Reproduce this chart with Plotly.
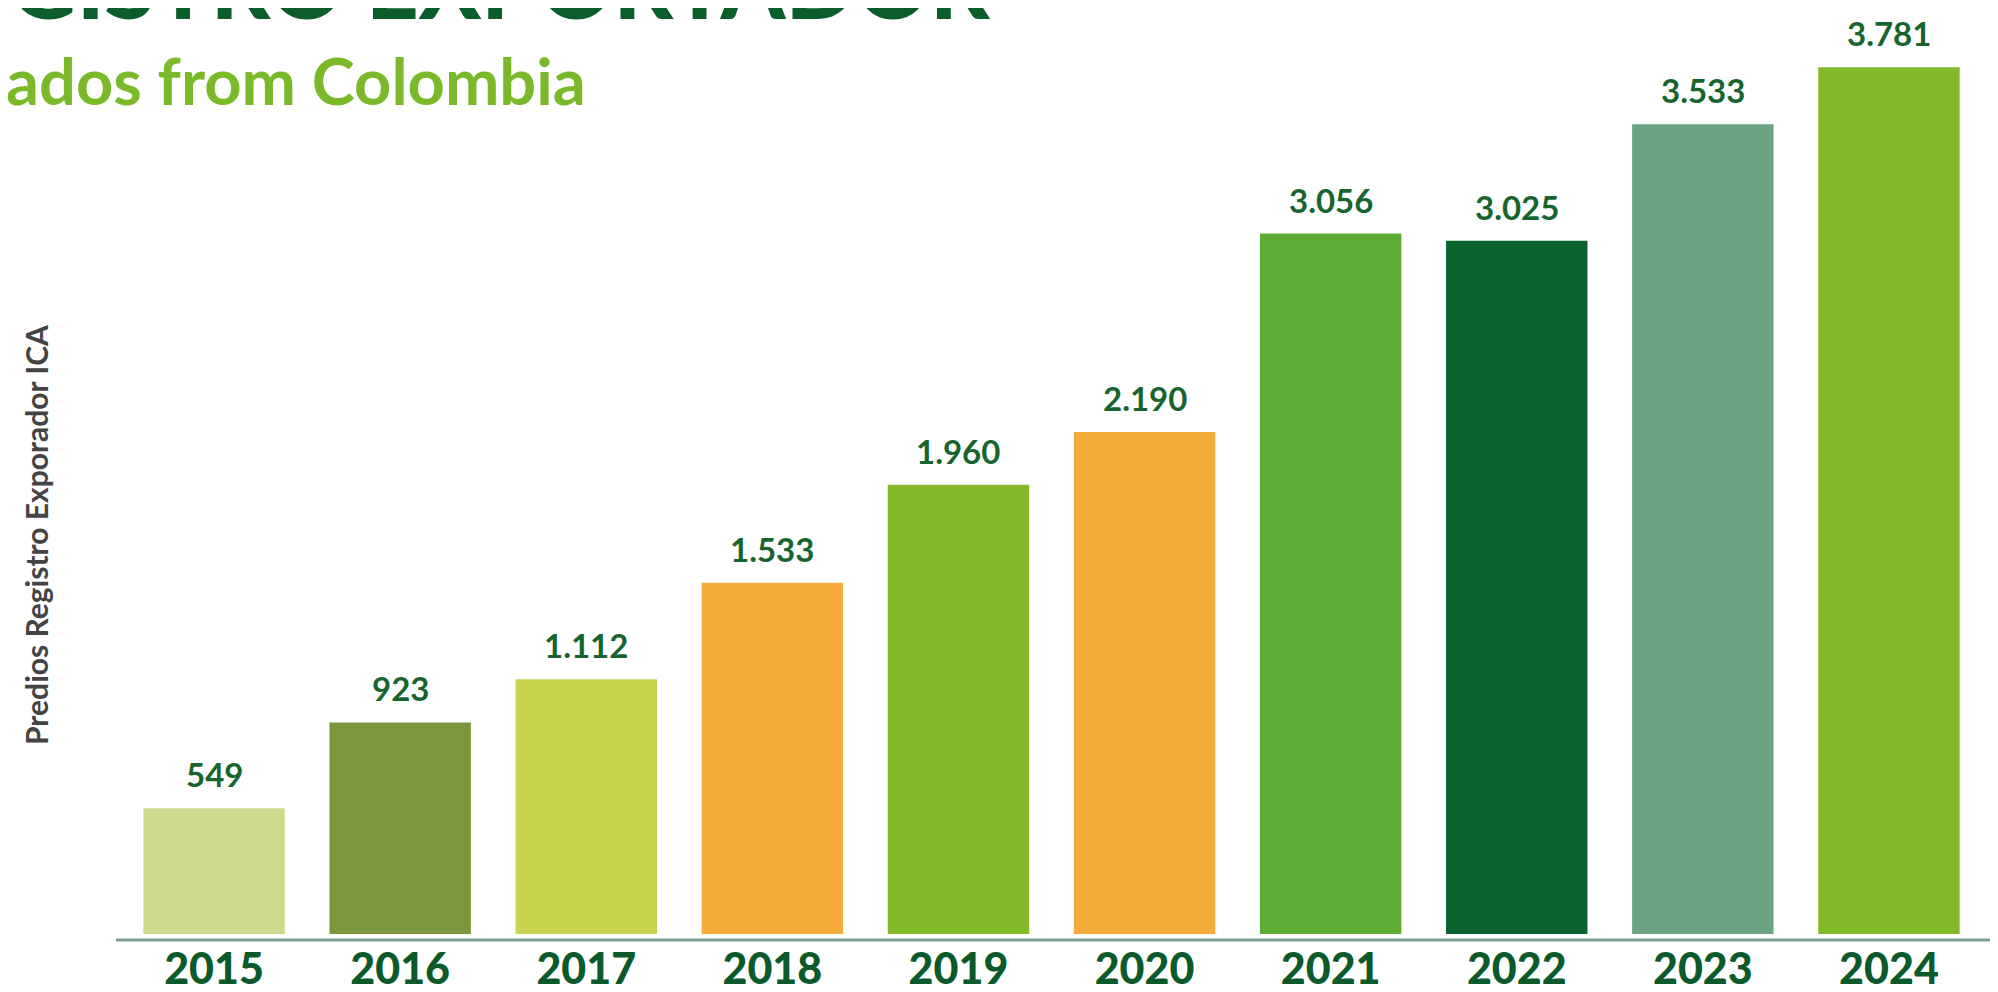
import plotly.graph_objects as go

years = ["2015", "2016", "2017", "2018", "2019", "2020", "2021", "2022", "2023", "2024"]
predios = [549, 923, 1112, 1533, 1960, 2190, 3056, 3025, 3533, 3781]
bar_colors = ["#cfdb8c", "#7b973c", "#c9d34f", "#f4ab3a", "#83b829",
              "#f4ad3b", "#5eab36", "#0a622e", "#6ca380", "#82b929"]
value_labels = [f"{v:,}".replace(",", ".") for v in predios]

title_text = "GISTRO EXPORTADOR"
subtitle_text = "ados from Colombia"
yaxis_title = "Predios Registro Exporador ICA"

W, H = 1998, 992
ML, MR, MT, MB = 113, 24, 0, 60
PW = W - ML - MR
PH = H - MT - MB

fig = go.Figure()
fig.add_trace(go.Bar(
    x=years, y=predios,
    marker=dict(color=bar_colors, line=dict(width=0)),
    hoverinfo="x+y",
))

# category axis: annotation x given as category index
for i, (v, lab) in enumerate(zip(predios, value_labels)):
    fig.add_annotation(x=i, y=v, text=lab, showarrow=False,
                       yanchor="bottom", yshift=12,
                       font=dict(family="Lato", size=33, color="#17642f", weight="bold"))

# cropped heading texts
fig.add_annotation(xref="paper", yref="paper", x=-ML / PW, y=1 - 33 / PH,
                   xanchor="left", yanchor="bottom", text=title_text, showarrow=False,
                   font=dict(family="Lato", size=92, color="#0b5e2c", weight=900))
fig.add_annotation(xref="paper", yref="paper", x=(-4 - ML) / PW, y=1 - 72 / PH,
                   xanchor="left", yanchor="middle", text=subtitle_text, showarrow=False,
                   font=dict(family="Lato", size=65, color="#7ab929", weight="bold"))
fig.add_annotation(xref="paper", yref="paper", x=(28 - ML) / PW, y=1 - 527 / PH,
                   xanchor="center", yanchor="middle", textangle=-90,
                   text=yaxis_title, showarrow=False,
                   font=dict(family="Lato", size=30, color="#444444", weight="bold"))

fig.add_shape(type="line", xref="paper", yref="paper",
              x0=(108 - ML) / PW, x1=(W - ML) / PW, y0=0, y1=0,
              line=dict(color="#7e9c8c", width=3))

fig.update_layout(
    width=W, height=H,
    margin=dict(l=ML, r=MR, t=MT, b=MB),
    paper_bgcolor="white", plot_bgcolor="white",
    bargap=0.24,
    showlegend=False,
    xaxis=dict(type="category", range=[-0.5, len(years) - 0.5],
               showline=False, showgrid=False, zeroline=False, ticks="",
               tickfont=dict(family="Lato", size=43, color="#0b5a2b", weight=900)),
    yaxis=dict(range=[-26, 4040], visible=False, showgrid=False, zeroline=False),
)

fig.write_html("out.html")
